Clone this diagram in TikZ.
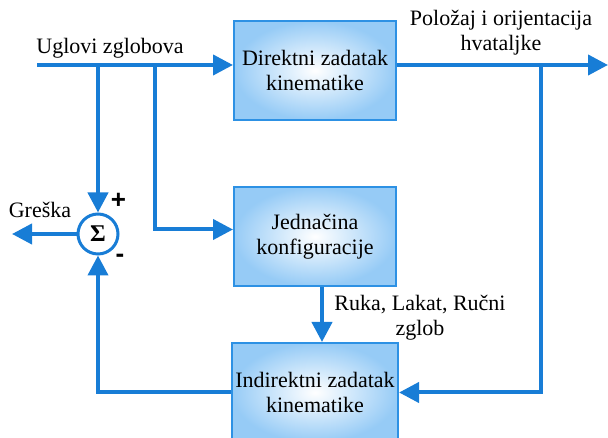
\documentclass[tikz,border=0pt]{standalone}
\usepackage{fontspec}
\setmainfont{Liberation Serif}
\setsansfont{Liberation Sans}
\usetikzlibrary{positioning,calc,arrows.meta}

\definecolor{linija}{RGB}{24,125,214}
\definecolor{okvir}{RGB}{45,145,228}
\definecolor{ispuna}{RGB}{150,203,246}

\begin{document}
\begin{tikzpicture}[x=1pt,y=1pt,
		blok/.style={draw=okvir, line width=2pt, inner color=white, outer color=ispuna,
			minimum width=162pt, minimum height=99pt, align=center, text=black,
			font=\rmfamily\fontsize{22}{25}\selectfont},
		tok/.style={draw=linija, line width=4pt, -{Triangle[length=20pt,width=20pt]}},
		zbir/.style={circle, draw=linija, line width=3pt, fill=white, minimum size=40pt,
			inner sep=0pt, font=\rmfamily\fontsize{24}{24}\selectfont\bfseries},
		tekst/.style={align=center, text=black, font=\rmfamily\fontsize{22}{25}\selectfont},
		znak/.style={font=\sffamily\fontsize{26}{26}\selectfont\bfseries}]
	
	\useasboundingbox (0,0) rectangle (608,438);
	
	% blokovi
	\node[blok] (direktni) at (315,367.5) {Direktni zadatak\\kinematike};
	\node[blok] (konf) at (315,201.5) {Jednačina\\konfiguracije};
	\node[blok] (indirektni) at (315,45.5) {Indirektni zadatak\\kinematike};
	\node[zbir] (suma) at (98,204) {Σ};
	
	% ulaz, izlaz i grananja
	\coordinate (ulaz) at (37,373);
	\coordinate (izlaz) at (608,373);
	\coordinate (greska) at (12,204);
	\coordinate (grana1) at (98,373);
	\coordinate (grana2) at (155,373);
	\coordinate (grana3) at (541,373);
	
	% veze
	\draw[tok] (ulaz) -- (ulaz -| direktni.west);
	\draw[tok] (direktni.east |- ulaz) -- (izlaz);
	\draw[tok] (grana1) -- (suma.north);
	\draw[tok] (grana2) |- ([yshift=7pt]konf.west);
	\draw[tok] (suma.west) -- (greska);
	\draw[tok] (grana3) |- (indirektni.east);
	\draw[tok] (indirektni.west) -| (suma.south);
	\draw[tok] ([xshift=7pt]konf.south) -- ([xshift=7pt]indirektni.north);
	
	% natpisi
	\node[tekst] (ulazTekst) at (110,390) {Uglovi zglobova};
	\node[tekst] (izlazTekst) at (501,405) {Položaj i orijentacija\\hvataljke};
	\node[tekst] (greskaTekst) at (40,228) {Greška};
	\node[tekst] (zglobTekst) at (420,120) {Ruka, Lakat, Ručni\\zglob};
	\node[znak] (plus) at (118.5,237) {+};
	\node[znak] (minus) at (120,180) {-};
	
\end{tikzpicture}
\end{document}
